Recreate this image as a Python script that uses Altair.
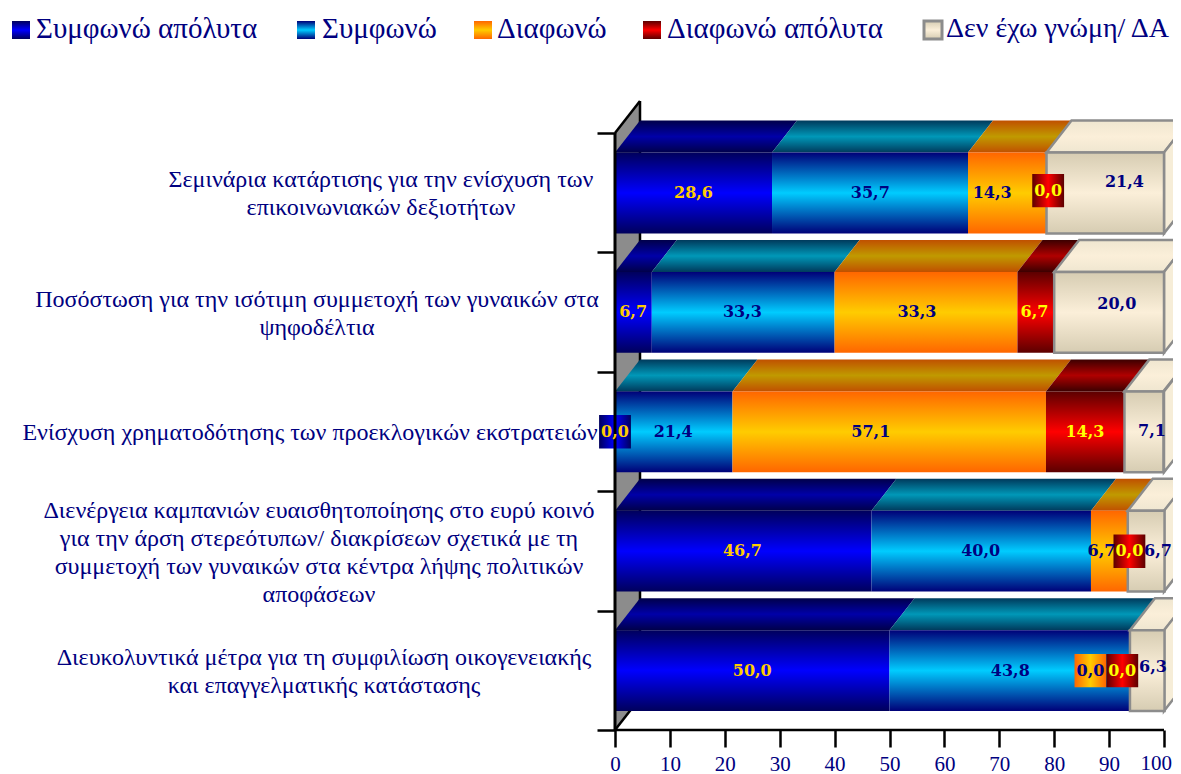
import altair as alt
import pandas as pd

SERIES = ["Συμφωνώ απόλυτα", "Συμφωνώ", "Διαφωνώ", "Διαφωνώ απόλυτα", "Δεν έχω γνώμη/ ΔΑ"]
CATEGORIES = [
    ["Σεμινάρια κατάρτισης για την ενίσχυση των", "επικοινωνιακών δεξιοτήτων"],
    ["Ποσόστωση για την ισότιμη συμμετοχή των γυναικών στα", "ψηφοδέλτια"],
    ["Ενίσχυση χρηματοδότησης των προεκλογικών εκστρατειών"],
    ["Διενέργεια καμπανιών ευαισθητοποίησης στο ευρύ κοινό",
     "για την άρση στερεότυπων/ διακρίσεων σχετικά με τη",
     "συμμετοχή των γυναικών στα κέντρα λήψης πολιτικών",
     "αποφάσεων"],
    ["Διευκολυντικά μέτρα για τη συμφιλίωση οικογενειακής", "και επαγγελματικής κατάστασης"],
]
V1 = [28.6, 6.7, 0.0, 46.7, 50.0]
V2 = [35.7, 33.3, 21.4, 40.0, 43.8]
V3 = [14.3, 33.3, 57.1, 6.7, 0.0]
V4 = [0.0, 6.7, 14.3, 0.0, 0.0]
V5 = [21.4, 20.0, 7.1, 6.7, 6.3]
VALUES = [V1, V2, V3, V4, V5]
X_TICKS = list(range(0, 101, 10))

# where the picture puts the value labels (axis units), by row then series
LABEL_X = [
    [14.3, 46.5, 68.7, 78.9, 92.8],
    [3.3, 23.2, 55.0, 76.4, 91.4],
    [0.0, 10.6, 46.6, 85.6, 97.8],
    [23.2, 66.6, 88.6, 93.7, 98.9],
    [25.0, 72.0, 86.6, 92.4, 98.0],
]
# vertical shift of the value labels from the bar centre (row units)
LABEL_DY = [
    [0, 0, 0, 0.02, 0.09],
    [0, 0, 0, 0, 0.07],
    [0, 0, 0, 0, 0.01],
    [0, 0, 0, 0, 0.0],
    [0, 0, 0, 0.0, 0.03],
]

FONT = "Liberation Serif"
NAVY = "#000080"
PX_PER_X = 5.49
PX_PER_Y = 119.4
DX = 25 / PX_PER_X
DY = 32 / PX_PER_Y
BAR_LO, BAR_HI = 0.159, 0.836
LEFT_PX, TOP_PX, BOTTOM_PX = 615, 96, 730
PLOT_W = 558  # 8px margin + 607 + 558 = 1173: wider than this and the page shrinks the whole chart
BLOCK_CENTER_PX = [381, 317, 310, 319, 324]
LINE_PX = 28


def grad(edge, mid, edge2=None, horizontal=False):
    return alt.LinearGradient(
        gradient="linear",
        x1=0, y1=0,
        x2=1 if horizontal else 0,
        y2=0 if horizontal else 1,
        stops=[
            alt.GradientStop(offset=0, color=edge),
            alt.GradientStop(offset=0.5, color=mid),
            alt.GradientStop(offset=1, color=edge2 or edge),
        ],
    )


FRONT = [("#00005c", "#0000ff"), ("#000078", "#00ccff"), ("#ff6600", "#ffcc00"),
         ("#5c0000", "#ff0000"), ("#d6ccb2", "#fbefd9")]
TOP = [("#00004a", "#0000a8"), ("#003a5c", "#0098b8"), ("#c05000", "#c09a00"),
       ("#3c0000", "#b00000"), ("#efe6d0", "#fbefd9")]
LABEL_COLOR = ["#ffcc00", NAVY, NAVY, "#ffff00", NAVY]

fronts, tops, labels, boxes = [], [], [], []
for r in range(5):
    k = 4 - r
    cum = 0.0
    for s in range(5):
        v = VALUES[s][r]
        lo, hi = cum, cum + v
        cum = hi
        if v > 0:
            fronts.append(dict(s=s, r=r, x=lo, x2=hi, y=k + BAR_LO, y2=k + BAR_HI))
            for t in [0, DY]:
                tops.append(dict(s=s, r=r, x=lo + t / DY * DX, x2=hi + t / DY * DX,
                                 y=k + BAR_HI + t))
        txt = f"{v:.1f}".replace(".", ",")
        cy = k + 0.4975 + LABEL_DY[r][s]
        labels.append(dict(x=LABEL_X[r][s], y=cy, t=txt, c=LABEL_COLOR[s]))
        if v == 0:
            boxes.append(dict(s=s, x=LABEL_X[r][s] - 2.9, x2=LABEL_X[r][s] + 2.9,
                              y=cy - 0.14, y2=cy + 0.14))

fronts = pd.DataFrame(fronts)
tops = pd.DataFrame(tops)
labels = pd.DataFrame(labels)
boxes = pd.DataFrame(boxes)

x_scale = alt.Scale(domain=[0, PLOT_W / PX_PER_X], nice=False, zero=False)
y_scale = alt.Scale(domain=[0, (BOTTOM_PX - TOP_PX) / PX_PER_Y], nice=False, zero=False)
X = alt.X("x:Q", scale=x_scale, title=None,
          axis=alt.Axis(values=X_TICKS, grid=False, domain=False, tickSize=17, tickWidth=2.5,
                        tickColor="black", labelFont=FONT, labelFontSize=21, labelColor=NAVY,
                        labelPadding=6, labelFlush=False, labelOverlap=False, format="d",
                        labelExpr="datum.value == 100 ? '' : datum.label"))
Y = alt.Y("y:Q", scale=y_scale, title=None,
          axis=alt.Axis(values=[0, 1, 2, 3, 4, 5], grid=False, domain=False, labels=False,
                        tickSize=18, tickWidth=2.5, tickColor="black"))

layers = []

# back wall and its outline
wall = pd.DataFrame(dict(x=[0, DX], y=[0, DY], y2=[5, 5 + DY]))
layers.append(alt.Chart(wall).mark_area(color="#8c8c8c", orient="vertical")
              .encode(x=X, y=Y, y2="y2:Q"))

outline = pd.DataFrame([
    dict(g=0, x=0, y=0), dict(g=0, x=DX, y=DY),
    dict(g=1, x=0, y=5), dict(g=1, x=DX, y=5 + DY),
    dict(g=2, x=DX, y=DY), dict(g=2, x=DX, y=5 + DY),
])
layers.append(alt.Chart(outline).mark_line(color="black", strokeWidth=2.5)
              .encode(x=X, y=Y, detail="g:N"))

for s in range(5):
    beige = s == 4
    stroke = dict(stroke="#8c8c8c", strokeWidth=2.5) if beige else {}
    ft = fronts[fronts.s == s]
    tp = tops[tops.s == s]
    layers.append(alt.Chart(tp).mark_area(orient="horizontal", fill=grad(*TOP[s]), **stroke)
                  .encode(x=X, x2="x2:Q", y=Y, detail="r:N"))
    if beige:
        sides = []
        for r in range(5):
            k = 4 - r
            for t in [0, 1]:
                sides.append(dict(r=r, x=100 + t * DX, y=k + BAR_LO + t * DY, y2=k + BAR_HI + t * DY))
        layers.append(alt.Chart(pd.DataFrame(sides))
                      .mark_area(orient="vertical", fill="#f6edd8", **stroke)
                      .encode(x=X, y=Y, y2="y2:Q", detail="r:N"))
    layers.append(alt.Chart(ft).mark_rect(fill=grad(*FRONT[s]), **stroke)
                  .encode(x=X, x2="x2:Q", y=Y, y2="y2:Q"))

for s in sorted(boxes.s.unique()):
    layers.append(alt.Chart(boxes[boxes.s == s])
                  .mark_rect(fill=grad(*FRONT[s], horizontal=True))
                  .encode(x=X, x2="x2:Q", y=Y, y2="y2:Q"))

# axis lines
layers.append(alt.Chart(pd.DataFrame(dict(x=[0], x2=[100], y=[0])))
              .mark_rule(color="black", strokeWidth=2.5).encode(x=X, x2="x2:Q", y=Y))
layers.append(alt.Chart(pd.DataFrame(dict(x=[0], y=[0], y2=[5])))
              .mark_rule(color="black", strokeWidth=3).encode(x=X, y=Y, y2="y2:Q"))

# value labels
layers.append(alt.Chart(labels)
              .mark_text(font="DejaVu Serif", fontWeight="bold", fontSize=16, baseline="middle")
              .encode(x=X, y=Y, text="t:N", color=alt.Color("c:N", scale=None, legend=None)))

# last tick label, pulled in so that it stays on the page
layers.append(alt.Chart(pd.DataFrame(dict(x=[100], y=[0], t=["100"])))
              .mark_text(font=FONT, fontSize=21, color=NAVY, align="right", baseline="top",
                         dx=8, dy=23)
              .encode(x=X, y=Y, text="t:N"))

# category labels, one text per line, centred on the block
for r, lines in enumerate(CATEGORIES):
    n = len(lines)
    df = pd.DataFrame(dict(
        y=[4 - r + 0.4975 - (i - (n - 1) / 2) * LINE_PX / PX_PER_Y for i in range(n)],
        t=lines))
    layers.append(alt.Chart(df)
                  .mark_text(font=FONT, fontSize=24, color=NAVY, align="center", baseline="middle", dy=1.5)
                  .encode(x=alt.value(BLOCK_CENTER_PX[r] - LEFT_PX), y=Y, text="t:N"))

# legend
LEG_SWATCH = [12, 297, 474, 643, 924]
LEG_TEXT = [36, 322, 497, 667, 946]
LEG_SIZE = [29, 29, 29, 29, 28]
one = pd.DataFrame(dict(a=[0]))
for s, name in enumerate(SERIES):
    st = dict(stroke="#8c8c8c", strokeWidth=3) if s == 4 else {}
    layers.append(alt.Chart(one).mark_rect(fill=grad(*FRONT[s]), **st).encode(
        x=alt.value(LEG_SWATCH[s] - LEFT_PX), x2=alt.value(LEG_SWATCH[s] + 18 - LEFT_PX),
        y=alt.value(21 - TOP_PX), y2=alt.value(39 - TOP_PX)))
    layers.append(alt.Chart(one).mark_text(font=FONT, fontSize=LEG_SIZE[s], color=NAVY, align="left",
                                           baseline="middle").encode(
        x=alt.value(LEG_TEXT[s] - LEFT_PX), y=alt.value(29 - TOP_PX), text=alt.value(name)))

chart = alt.layer(*layers).properties(
    width=PLOT_W, height=BOTTOM_PX - TOP_PX,
    autosize=alt.AutoSizeParams(type="none"),
    padding={"left": LEFT_PX - 8, "top": TOP_PX - 8, "right": 0, "bottom": 44},
).configure_view(stroke=None)

chart.save("out.html", embed_options={"renderer": "svg", "actions": False})
